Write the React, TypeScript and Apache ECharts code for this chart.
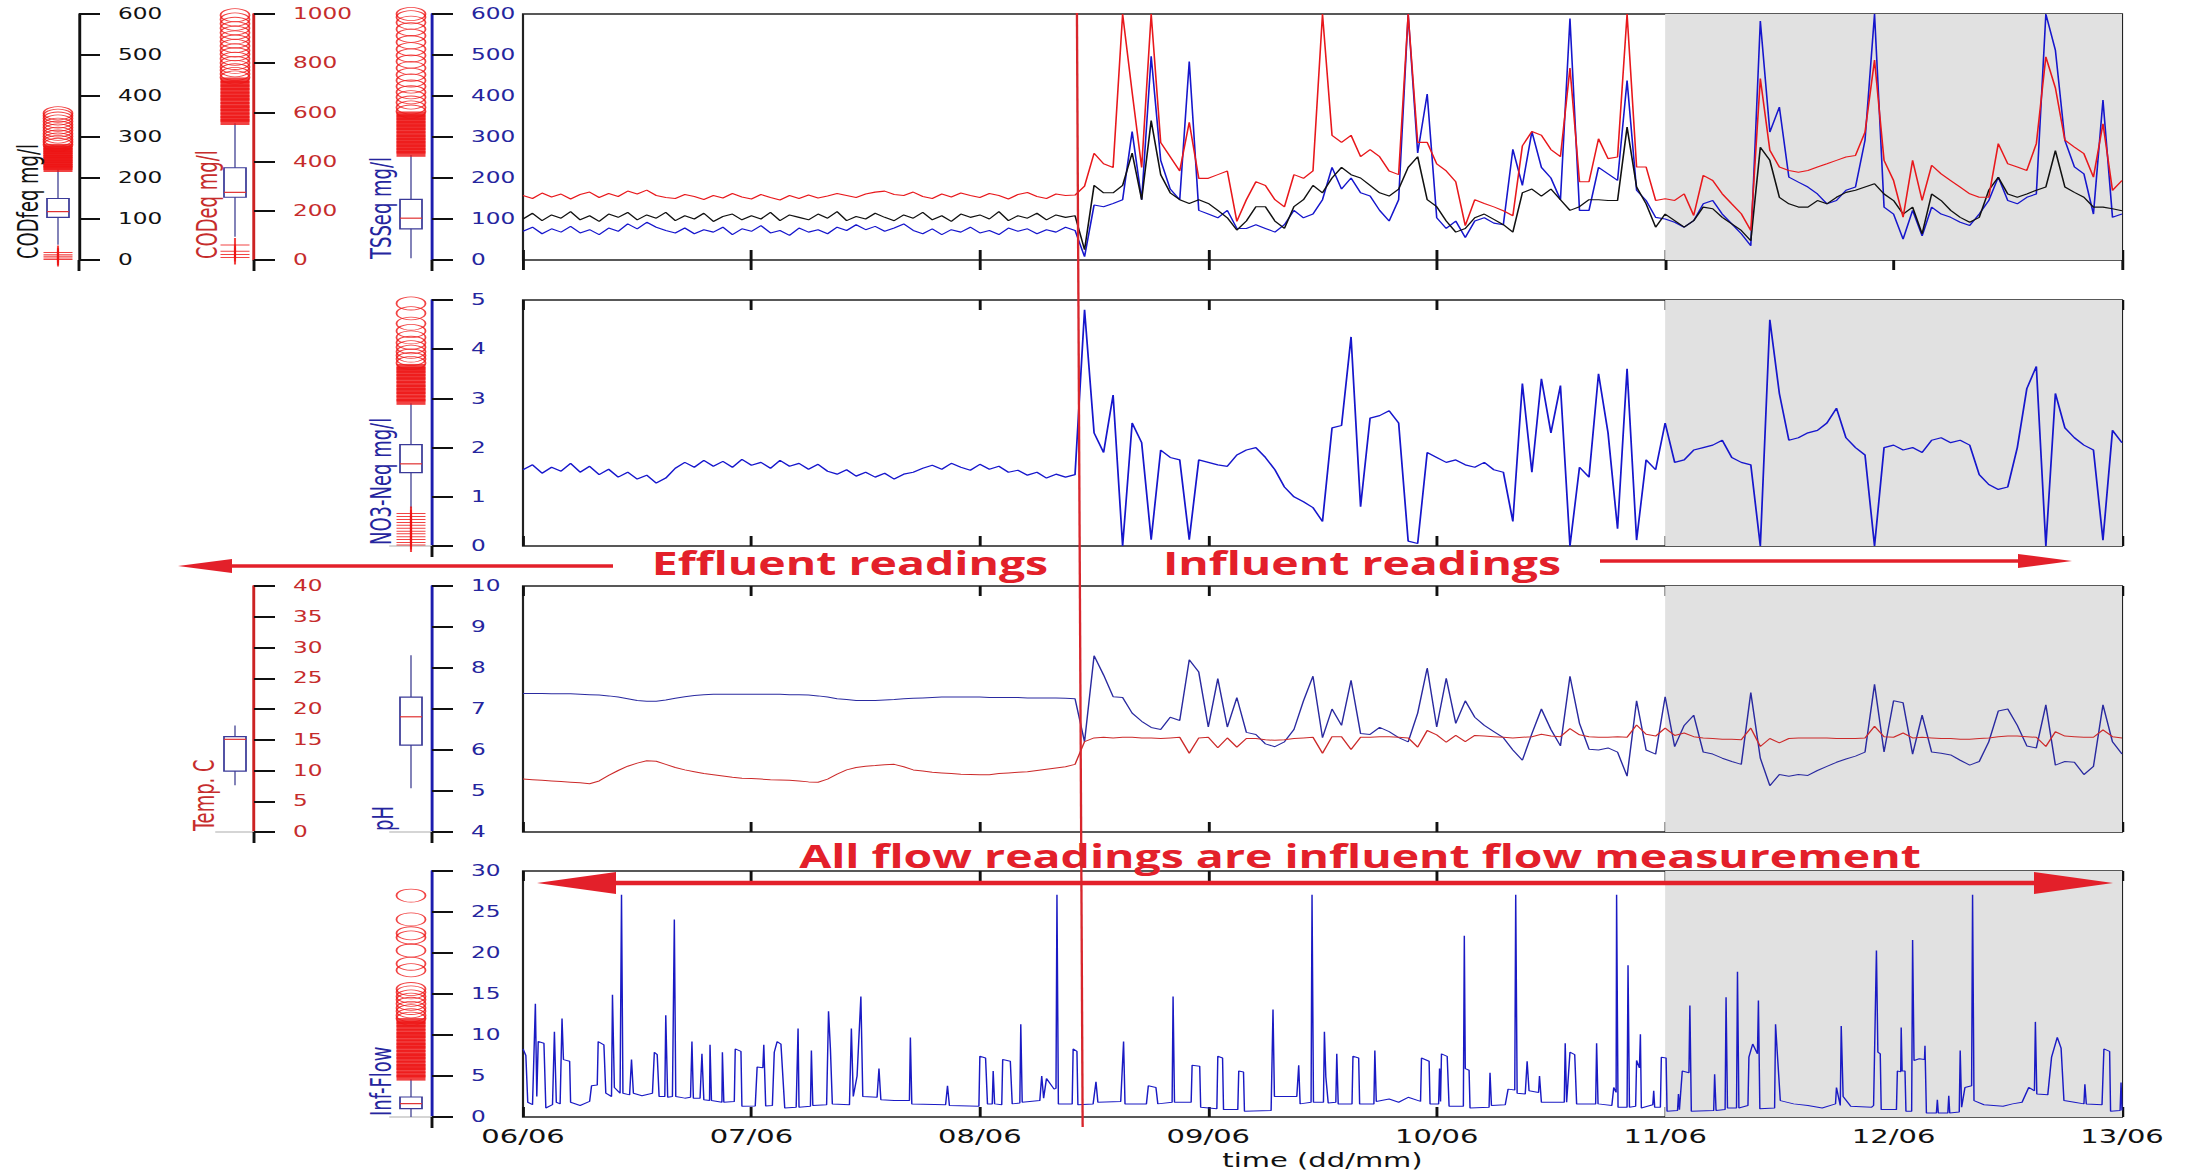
import React, { useEffect, useRef } from 'react';
import * as echarts from 'echarts';

// ---------- page / stretch ----------
const S = 1.45; // the reference figure is stretched horizontally
const W = 2189;
const H = 1173;
const u = (x: number) => x / S;

// ---------- axes / categories ----------
const DAY_LABELS = ['06/06', '07/06', '08/06', '09/06', '10/06', '11/06', '12/06', '13/06'];
const HOURS_MAX = 168;
const SHADE_START = 120;
const SHADE_END = 168;
const SWITCH_TOP = 58.2;
const SWITCH_BOTTOM = 58.8;

// ---------- hourly series (index = hour since 06/06 00:00) ----------
const TSS = [
  70, 80, 64, 76, 68, 82, 66, 74, 62, 78, 70, 88,
  76, 92, 80, 72, 66, 78, 64, 74, 68, 80, 62, 76,
  70, 84, 66, 72, 60, 78, 68, 74, 64, 80, 72, 86,
  74, 82, 70, 78, 88, 72, 64, 76, 62, 74, 68, 80,
  66, 72, 62, 78, 70, 76, 64, 74, 68, 80, 72, 8,
  134, 130, 138, 147, 313, 147, 497, 243, 173, 147, 484, 121,
  112, 103, 121, 77, 77, 86, 77, 68, 86, 121, 103, 112,
  147, 226, 173, 200, 164, 156, 121, 95, 147, 600, 261, 405,
  103, 77, 95, 55, 95, 103, 90, 86, 270, 182, 313, 226,
  200, 147, 589, 121, 121, 226, 210, 194, 438, 170, 145, 104,
  100, 92, 80, 96, 137, 145, 112, 88, 64, 35, 583, 312,
  373, 202, 190, 178, 161, 137, 145, 170, 178, 292, 600, 129,
  112, 51, 121, 59, 129, 112, 104, 92, 84, 112, 145, 202,
  145, 137, 153, 161, 600, 512, 292, 227, 210, 112, 390, 104,
  112,
];

const CODF = [
  100, 114, 96, 110, 102, 118, 98, 108, 94, 112, 104, 116,
  98, 110, 102, 116, 96, 108, 100, 114, 94, 106, 112, 98,
  108, 100, 116, 96, 110, 104, 98, 112, 102, 118, 96, 106,
  100, 114, 104, 96, 110, 102, 116, 98, 108, 94, 112, 104,
  110, 100, 118, 96, 108, 102, 114, 98, 110, 104, 108, 25,
  182, 164, 164, 182, 261, 147, 340, 208, 164, 147, 138, 147,
  138, 121, 103, 73, 95, 130, 130, 95, 77, 130, 147, 182,
  164, 200, 226, 208, 200, 182, 164, 156, 173, 226, 252, 147,
  130, 95, 68, 77, 103, 112, 99, 86, 68, 164, 173, 156,
  173, 147, 121, 130, 147, 147, 145, 145, 324, 178, 137, 80,
  112, 96, 80, 96, 129, 125, 104, 88, 72, 47, 275, 243,
  153, 137, 129, 129, 145, 137, 153, 165, 170, 178, 186, 161,
  145, 112, 129, 64, 161, 145, 121, 104, 92, 104, 170, 202,
  161, 153, 161, 170, 178, 267, 178, 165, 153, 129, 129, 125,
  120,
];

const CODEQ = [
  262, 250, 272, 256, 268, 248, 266, 276, 254, 270, 258, 280,
  268, 284, 262, 254, 250, 266, 258, 246, 262, 252, 270, 256,
  248, 266, 254, 244, 262, 250, 264, 252, 260, 270, 262, 254,
  268, 276, 280, 266, 262, 276, 258, 250, 268, 256, 272, 262,
  254, 270, 262, 248, 266, 274, 258, 250, 268, 262, 264, 300,
  434, 391, 376, 1000, 682, 376, 1000, 478, 420, 362, 560, 332,
  332, 347, 362, 157, 245, 318, 303, 245, 216, 347, 332, 362,
  1000, 507, 478, 507, 420, 449, 420, 362, 347, 1000, 478, 478,
  391, 362, 318, 140, 245, 230, 216, 200, 180, 464, 522, 507,
  449, 420, 780, 318, 318, 493, 412, 419, 1000, 378, 378, 242,
  249, 242, 269, 181, 344, 323, 269, 228, 188, 120, 738, 446,
  378, 364, 357, 364, 378, 391, 405, 419, 425, 520, 813, 405,
  323, 174, 405, 242, 385, 350, 323, 296, 269, 255, 255, 473,
  391, 378, 364, 473, 826, 700, 487, 459, 432, 337, 554, 283,
  323,
];

const NO3 = [
  1.55, 1.65, 1.48, 1.6, 1.52, 1.68, 1.5, 1.62, 1.45, 1.56, 1.4, 1.5,
  1.36, 1.44, 1.28, 1.38, 1.58, 1.7, 1.6, 1.74, 1.62, 1.72, 1.6, 1.76,
  1.64, 1.7, 1.58, 1.74, 1.62, 1.68, 1.56, 1.66, 1.52, 1.46, 1.55, 1.42,
  1.5, 1.4, 1.48, 1.36, 1.46, 1.5, 1.58, 1.64, 1.56, 1.68, 1.6, 1.54,
  1.66, 1.56, 1.62, 1.5, 1.54, 1.44, 1.5, 1.38, 1.46, 1.4, 1.45, 4.8,
  2.3, 1.9, 3.07, 0.0, 2.5, 2.1, 0.13, 1.95, 1.8, 1.75, 0.13, 1.75,
  1.7, 1.65, 1.62, 1.85, 1.95, 2.0, 1.8, 1.55, 1.2, 1.0, 0.9, 0.78,
  0.5, 2.4, 2.45, 4.25, 0.8, 2.6, 2.65, 2.75, 2.5, 0.1, 0.05, 1.9,
  1.8, 1.7, 1.75, 1.65, 1.6, 1.7, 1.55, 1.5, 0.5, 3.3, 1.5, 3.4,
  2.3, 3.26, 0.0, 1.6, 1.4, 3.5, 2.3, 0.35, 3.6, 0.12, 1.75, 1.55,
  2.5, 1.7, 1.75, 1.95, 2.0, 2.05, 2.15, 1.8, 1.7, 1.65, 0.0, 4.6,
  3.1, 2.15, 2.2, 2.3, 2.35, 2.5, 2.8, 2.2, 2.0, 1.85, 0.0, 2.0,
  2.05, 1.95, 2.0, 1.9, 2.15, 2.2, 2.1, 2.15, 2.05, 1.45, 1.25, 1.15,
  1.2, 2.0, 3.2, 3.65, 0.0, 3.1, 2.4, 2.2, 2.05, 1.95, 0.12, 2.35,
  2.1,
];

const PH = [
  7.38, 7.38, 7.38, 7.37, 7.37, 7.37, 7.36, 7.35, 7.34, 7.32, 7.29, 7.25,
  7.21, 7.19, 7.19, 7.22, 7.26, 7.3, 7.33, 7.35, 7.36, 7.36, 7.36, 7.36,
  7.36, 7.36, 7.36, 7.36, 7.35, 7.35, 7.34, 7.32, 7.29, 7.25, 7.23, 7.21,
  7.21, 7.21, 7.22, 7.23, 7.25, 7.26, 7.27, 7.28, 7.29, 7.29, 7.29, 7.29,
  7.29, 7.28, 7.28, 7.28, 7.28, 7.27, 7.27, 7.27, 7.27, 7.26, 7.25, 6.2,
  8.3, 7.83, 7.3, 7.28, 6.9, 6.7, 6.55, 6.5, 6.8, 6.72, 8.2, 7.9,
  6.56, 7.74, 6.56, 7.28, 6.43, 6.38, 6.15, 6.08, 6.2, 6.5, 7.2, 7.8,
  6.3, 7.0, 6.6, 7.7, 6.4, 6.38, 6.55, 6.45, 6.3, 6.2, 6.9, 8.0,
  6.56, 7.75, 6.65, 7.2, 6.8, 6.6, 6.45, 6.3, 6.0, 5.75, 6.4, 7.0,
  6.5, 6.1, 7.8, 6.65, 6.02, 6.0, 6.05, 5.95, 5.36, 7.2, 6.0, 5.9,
  7.3, 6.08, 6.6, 6.85, 5.95, 5.9, 5.8, 5.72, 5.65, 7.4, 5.8, 5.13,
  5.4, 5.36, 5.4, 5.38, 5.5, 5.6, 5.7, 5.78, 5.85, 5.95, 7.6, 5.95,
  7.2, 7.15, 5.9, 6.85, 5.95, 5.92, 5.88, 5.75, 5.63, 5.72, 6.2, 6.95,
  7.0, 6.6, 6.1, 6.05, 7.1, 5.63, 5.72, 5.7, 5.4, 5.6, 7.1, 6.2,
  5.9,
];

const TEMP = [
  8.6, 8.5, 8.4, 8.3, 8.2, 8.1, 8.0, 7.85, 8.3, 9.2, 10.0, 10.7,
  11.2, 11.6, 11.5, 11.0, 10.5, 10.1, 9.8, 9.5, 9.3, 9.1, 8.9, 8.75,
  8.7, 8.6, 8.5, 8.45, 8.4, 8.3, 8.15, 8.1, 8.6, 9.4, 10.1, 10.5,
  10.7, 10.8, 10.95, 11.0, 10.6, 10.1, 9.9, 9.7, 9.6, 9.5, 9.4, 9.35,
  9.3, 9.3, 9.5, 9.6, 9.7, 9.8, 10.0, 10.2, 10.4, 10.6, 11.0, 14.7,
  15.3, 15.4, 15.3, 15.4, 15.4, 15.3, 15.3, 15.2, 15.3, 15.4, 12.8, 15.3,
  15.4, 13.7, 15.3, 13.8, 15.2, 15.2, 15.0, 14.9, 15.0, 15.2, 15.3, 15.4,
  12.8, 15.5, 15.5, 13.4, 15.4, 15.4, 15.5, 15.5, 15.4, 15.3, 13.8, 16.5,
  15.8, 14.6, 15.7, 14.7, 15.7, 15.6, 15.5, 15.4, 15.3, 15.4, 15.5, 15.9,
  15.6, 15.5, 16.8, 15.8, 15.5, 15.4, 15.4, 15.5, 15.4, 17.4, 15.9, 15.6,
  16.9, 15.7, 16.1, 15.5, 15.3, 15.2, 15.1, 15.1, 15.0, 16.9, 13.9, 15.2,
  14.5, 15.2, 15.3, 15.3, 15.3, 15.3, 15.2, 15.2, 15.2, 15.3, 17.2, 15.5,
  15.4, 16.1, 15.3, 15.4, 15.3, 15.2, 15.2, 15.1, 15.1, 15.2, 15.3, 15.5,
  15.6, 15.6, 15.5, 15.4, 13.9, 16.3, 15.6, 15.5, 15.4, 15.4, 16.6, 15.5,
  15.3,
];

// influent flow, [hour, value] read at irregular times to keep narrow spikes
const FLOW = [
  [0, 8.3], [0.3, 7.5], [0.5, 1.8], [1.0, 1.5], [1.3, 13.8], [1.45, 2.5], [1.6, 9.2], [2.2, 9.0], [2.4, 1.1],
  [3.1, 1.5], [3.3, 10.4], [3.5, 1.8], [3.9, 1.6], [4.1, 12.0], [4.25, 7.0], [4.9, 6.8], [5.0, 1.8], [6.0, 1.4],
  [7.0, 1.9], [7.2, 3.8], [7.8, 3.9], [7.9, 9.2], [8.5, 8.8], [8.7, 2.9], [9.3, 2.5], [9.4, 14.9], [9.6, 3.6],
  [10.2, 2.9], [10.35, 27.1], [10.5, 2.9], [11.2, 2.7], [11.4, 7.0], [11.6, 2.9], [12.5, 2.6], [13.6, 2.9],
  [13.8, 7.9], [14.1, 7.6], [14.3, 2.5], [14.9, 2.5], [15.0, 12.4], [15.2, 2.4], [15.7, 2.5], [15.9, 24.1],
  [16.05, 2.5], [17.0, 2.3], [17.6, 2.4], [17.75, 9.2], [17.9, 2.3], [18.6, 2.3], [18.8, 7.7], [19.0, 2.1],
  [19.6, 2.0], [19.65, 8.8], [19.8, 2.0], [20.9, 1.8], [20.95, 7.9], [21.1, 1.8], [22.2, 1.9], [22.3, 8.3],
  [22.9, 8.0], [23.0, 1.3], [24.4, 1.35], [24.6, 6.1], [25.2, 6.0], [25.3, 8.8], [25.5, 1.35], [26.2, 1.4],
  [26.4, 7.9], [26.7, 9.2], [27.1, 8.9], [27.5, 1.1], [28.7, 1.2], [28.9, 10.8], [29.0, 1.2], [30.2, 1.3],
  [30.3, 8.1], [30.45, 1.4], [31.9, 1.5], [32.1, 12.9], [32.3, 8.3], [32.5, 1.6], [34.3, 1.5], [34.5, 10.8],
  [34.7, 2.5], [35.1, 5.0], [35.5, 14.7], [35.7, 2.5], [37.2, 2.4], [37.4, 5.9], [37.6, 2.1], [39.0, 2.0],
  [40.6, 2.0], [40.7, 9.7], [40.85, 1.6], [44.4, 1.5], [44.6, 3.8], [44.8, 1.4], [47.9, 1.3], [48.0, 7.4],
  [48.6, 7.2], [48.8, 1.6], [49.3, 1.6], [49.4, 5.6], [49.55, 1.6], [50.3, 1.5], [50.4, 7.0], [51.2, 6.8],
  [51.4, 1.6], [52.2, 1.7], [52.3, 11.3], [52.45, 1.8], [54.3, 2.0], [54.5, 5.0], [54.7, 2.3], [55.0, 4.7],
  [55.8, 3.4], [56.0, 3.5], [56.1, 27.1], [56.25, 1.6], [57.7, 1.6], [57.8, 8.3], [58.2, 8.0], [58.3, 1.5],
  [59.9, 1.6], [60.2, 4.3], [60.4, 1.8], [62.8, 1.9], [63.1, 9.2], [63.25, 1.6], [65.5, 1.6], [65.7, 3.8],
  [66.5, 3.6], [66.7, 1.6], [68.2, 1.8], [68.3, 14.7], [68.45, 1.8], [70.2, 1.8], [70.3, 6.3], [71.1, 6.2],
  [71.2, 1.2], [72.9, 1.0], [73.0, 7.4], [73.5, 7.2], [73.6, 0.9], [75.1, 0.9], [75.2, 5.6], [75.7, 5.5],
  [75.8, 0.7], [78.6, 0.8], [78.8, 13.1], [78.95, 2.5], [81.3, 2.5], [81.5, 6.3], [81.65, 1.6], [82.8, 1.8],
  [82.9, 27.1], [83.05, 1.8], [84.1, 1.8], [84.2, 10.4], [84.35, 4.9], [84.6, 1.7], [85.4, 1.8], [85.5, 7.7],
  [85.65, 1.6], [87.1, 1.6], [87.2, 7.4], [87.8, 7.2], [87.9, 1.6], [89.4, 1.6], [89.5, 8.1], [89.65, 1.9],
  [91.0, 2.2], [92.0, 1.8], [93.0, 2.4], [94.3, 1.9], [94.4, 7.2], [95.2, 6.8], [95.3, 1.6], [96.2, 1.6],
  [96.3, 5.9], [96.4, 1.9], [96.5, 7.7], [97.1, 7.4], [97.3, 1.3], [98.8, 1.3], [98.9, 22.1], [99.0, 5.9],
  [99.4, 5.7], [99.5, 1.1], [101.5, 1.2], [101.6, 5.4], [101.75, 1.4], [103.2, 1.5], [103.5, 3.4], [104.2, 3.3],
  [104.3, 27.1], [104.45, 2.9], [105.3, 2.8], [105.5, 6.8], [105.7, 3.2], [106.7, 3.0], [106.8, 5.0], [107.0, 1.8],
  [109.4, 1.8], [109.5, 9.0], [109.65, 1.8], [110.0, 7.9], [110.5, 7.6], [110.7, 1.6], [112.7, 1.6], [112.8, 9.0],
  [112.95, 1.6], [114.4, 1.4], [114.6, 3.6], [114.85, 3.0], [114.9, 27.1], [115.05, 1.2], [116.0, 1.2],
  [116.1, 18.5], [116.25, 1.2], [116.9, 1.3], [117.0, 6.9], [117.3, 6.0], [117.4, 10.1], [117.5, 1.1],
  [118.7, 1.5], [118.8, 3.2], [118.9, 1.2], [119.5, 1.2], [119.6, 7.3], [120.1, 7.2], [120.2, 0.7], [121.3, 0.8],
  [121.4, 2.8], [121.5, 0.9], [121.8, 5.6], [122.5, 5.4], [122.6, 13.6], [122.75, 0.7], [125.1, 0.8], [125.2, 5.2],
  [125.35, 0.8], [126.3, 0.9], [126.4, 14.6], [126.55, 1.1], [127.5, 1.1], [127.6, 17.7], [127.75, 1.1],
  [128.7, 1.4], [128.8, 7.3], [129.2, 8.9], [129.7, 7.7], [129.8, 14.2], [129.95, 1.0], [131.5, 1.1],
  [131.6, 11.3], [131.8, 7.5], [132.1, 2.0], [133.5, 1.6], [135.0, 1.4], [136.5, 1.1], [137.9, 1.6], [138.0, 3.6],
  [138.4, 1.4], [138.5, 11.1], [138.7, 2.5], [139.5, 1.3], [141.7, 1.2], [141.9, 1.4], [142.2, 20.3],
  [142.35, 7.9], [142.6, 7.7], [142.7, 0.9], [144.3, 0.9], [144.4, 5.6], [144.75, 5.5], [144.8, 10.9],
  [144.9, 5.6], [145.2, 5.6], [145.3, 0.7], [145.9, 0.7], [146.0, 21.6], [146.15, 6.9], [146.7, 7.1],
  [147.25, 7.0], [147.3, 8.7], [147.45, 0.5], [148.5, 0.5], [148.6, 2.1], [148.7, 0.5], [149.7, 0.5],
  [149.8, 2.6], [149.9, 0.5], [150.9, 0.6], [151.0, 8.1], [151.15, 1.2], [151.5, 3.6], [152.2, 3.8],
  [152.3, 27.1], [152.45, 2.0], [153.5, 1.5], [154.5, 1.4], [155.5, 1.3], [156.5, 1.6], [157.5, 1.8],
  [158.2, 3.6], [158.8, 3.2], [158.9, 11.6], [159.05, 2.8], [160.2, 2.7], [160.6, 7.3], [161.2, 9.7],
  [161.6, 8.4], [161.9, 2.0], [163.0, 1.8], [164.0, 1.6], [164.1, 4.0], [164.25, 1.6], [165.9, 1.5],
  [166.1, 8.3], [166.7, 8.0], [166.8, 0.7], [167.8, 0.8], [167.9, 4.2], [168.0, 0.8],
];

// ---------- box plots: [min whisker, Q1, median, Q3, max whisker] + outliers ----------
const CODFEQ_BOX = [37, 104, 118, 150, 220];
const CODFEQ_DENSE = [222, 227, 233, 238, 244, 249, 255, 260, 266, 271, 276];
const CODFEQ_CIRCLES = [281, 288, 294, 301, 308, 316, 323, 330, 338, 345, 352, 358];
const CODFEQ_LOW = [1, 5, 9, 13, 18];

const CODEQ_BOX = [95, 255, 275, 375, 556];
const CODEQ_DENSE = [561, 574, 588, 603, 617, 630, 646, 660, 673, 688, 702, 716, 730];
const CODEQ_CIRCLES = [742, 756, 771, 785, 801, 818, 836, 852, 870, 888, 905, 924, 942, 960, 978, 995];
const CODEQ_LOW = [10, 22, 36, 61];

const TSS_BOX = [4, 76, 102, 148, 256];
const TSS_DENSE = [259, 267, 275, 283, 291, 299, 307, 316, 324, 332, 340, 348, 355];
const TSS_CIRCLES = [362, 372, 384, 397, 409, 423, 438, 452, 468, 484, 499, 514, 531, 547, 563, 579, 592, 600];
const TSS_LOW: number[] = [];

const NO3_BOX = [0.76, 1.49, 1.67, 2.06, 2.9];
const NO3_DENSE = [2.93, 3.0, 3.08, 3.15, 3.22, 3.29, 3.37, 3.44, 3.51, 3.58, 3.64];
const NO3_CIRCLES = [3.72, 3.8, 3.87, 3.95, 4.04, 4.13, 4.24, 4.37, 4.52, 4.73, 4.93];
const NO3_LOW = [0.02, 0.07, 0.13, 0.19, 0.25, 0.3, 0.36, 0.42, 0.48, 0.54, 0.6, 0.66];

const TEMP_BOX = [7.6, 9.9, 15.07, 15.5, 17.3];
const PH_BOX = [5.07, 6.12, 6.81, 7.29, 8.31];

const FLOW_BOX = [0, 1.02, 1.63, 2.44, 4.6];
const FLOW_DENSE = [4.8, 5.2, 5.7, 6.1, 6.5, 7.0, 7.4, 7.8, 8.3, 8.7, 9.1, 9.6, 10.0, 10.4, 10.9, 11.3, 11.7];
const FLOW_CIRCLES = [12.0, 12.4, 12.9, 13.3, 13.8, 14.3, 14.7, 15.2, 15.6, 17.9, 18.7, 20.3, 21.9, 22.4, 24.1, 27.0];
const EMPTY: number[] = [];

// ---------- layout (reference pixels) & styles ----------
const PANEL_TOPS = [14, 300, 586, 871];
const PANEL_H = 246;
const PLOT_L = 523;
const PLOT_R = 2122;

const FONT = '"DejaVu Sans", "Liberation Sans", sans-serif';
const NARROW = '"Liberation Sans Narrow", "DejaVu Sans Condensed", "Liberation Sans", sans-serif';
const ANNOT = '"Open Sans", "Liberation Sans", sans-serif';
const BLUE = '#1616cc';
const AX_BLUE = '#1c1cae';
const LB_BLUE = '#25259e';
const RED = '#e8181c';
const AX_RED = '#cc2222';
const LB_RED = '#c62c2c';
const OUT_RED = '#ee1414';
const ANN_RED = '#e3202a';
const BOX_C = '#3a3a98';

const BOXES = [
  { panel: 0, center: 58, axisX: 79, box: CODFEQ_BOX, dense: CODFEQ_DENSE, circles: CODFEQ_CIRCLES, low: CODFEQ_LOW, min: 0, max: 600, interval: 100, axisColor: '#111', labelColor: '#111', title: 'CODfeq mg/l', titleX: 28, base: false },
  { panel: 0, center: 235, axisX: 254, box: CODEQ_BOX, dense: CODEQ_DENSE, circles: CODEQ_CIRCLES, low: CODEQ_LOW, min: 0, max: 1000, interval: 200, axisColor: AX_RED, labelColor: LB_RED, title: 'CODeq mg/l', titleX: 207, base: false },
  { panel: 0, center: 411, axisX: 432, box: TSS_BOX, dense: TSS_DENSE, circles: TSS_CIRCLES, low: TSS_LOW, min: 0, max: 600, interval: 100, axisColor: AX_BLUE, labelColor: LB_BLUE, title: 'TSSeq mg/l', titleX: 381, base: false },
  { panel: 1, center: 411, axisX: 432, box: NO3_BOX, dense: NO3_DENSE, circles: NO3_CIRCLES, low: NO3_LOW, min: 0, max: 5, interval: 1, axisColor: AX_BLUE, labelColor: LB_BLUE, title: 'NO3-Neq mg/l', titleX: 381, base: true },
  { panel: 2, center: 235, axisX: 254, box: TEMP_BOX, dense: EMPTY, circles: EMPTY, low: EMPTY, min: 0, max: 40, interval: 5, axisColor: AX_RED, labelColor: LB_RED, title: 'Temp. C', titleX: 204, base: true },
  { panel: 2, center: 411, axisX: 432, box: PH_BOX, dense: EMPTY, circles: EMPTY, low: EMPTY, min: 4, max: 10, interval: 1, axisColor: AX_BLUE, labelColor: LB_BLUE, title: 'pH', titleX: 383, base: true },
  { panel: 3, center: 411, axisX: 432, box: FLOW_BOX, dense: FLOW_DENSE, circles: FLOW_CIRCLES, low: EMPTY, min: 0, max: 30, interval: 5, axisColor: AX_BLUE, labelColor: LB_BLUE, title: 'Inf-Flow', titleX: 381, base: true },
];

const hourly = (arr: number[]) => arr.map((v, i) => [i, v]);

function boxRender(params: any, api: any) {
  const c = (k: number) => api.coord([0, api.value(k)]);
  const x = c(1)[0];
  const yMin = c(1)[1];
  const yQ1 = c(2)[1];
  const yMed = c(3)[1];
  const yQ3 = c(4)[1];
  const yMax = c(5)[1];
  const hw = u(11);
  const wStyle = { stroke: '#55559e', lineWidth: 1 };
  return {
    type: 'group',
    children: [
      { type: 'line', shape: { x1: x, y1: yMax, x2: x, y2: yQ3 }, style: wStyle },
      { type: 'line', shape: { x1: x, y1: yQ1, x2: x, y2: yMin }, style: wStyle },
      { type: 'rect', shape: { x: x - hw, y: yQ3, width: 2 * hw, height: yQ1 - yQ3 }, style: { fill: 'none', stroke: BOX_C, lineWidth: 1.2 } },
      { type: 'line', shape: { x1: x - hw, y1: yMed, x2: x + hw, y2: yMed }, style: { stroke: '#e03030', lineWidth: 1.2 } },
    ],
  };
}

function buildOption() {
  const grid: any[] = [];
  const xAxis: any[] = [];
  const yAxis: any[] = [];
  const series: any[] = [];

  PANEL_TOPS.forEach((top) =>
    grid.push({ left: u(PLOT_L), width: u(PLOT_R - PLOT_L), top, height: PANEL_H, show: true, borderColor: '#222', borderWidth: 1.5, backgroundColor: 'rgba(0,0,0,0)' })
  );
  BOXES.forEach((b) => {
    const d = b.axisX - b.center;
    grid.push({ left: u(b.center - d), width: u(2 * d), top: PANEL_TOPS[b.panel], height: PANEL_H, show: false });
  });

  for (let i = 0; i < 4; i++) {
    xAxis.push({
      gridIndex: i, type: 'value', min: 0, max: HOURS_MAX, interval: 24, position: 'bottom',
      axisLine: { show: false },
      axisTick: { show: true, inside: true, length: 10, lineStyle: { color: '#111', width: 2 } },
      axisLabel: {
        show: i === 3, margin: 9, color: '#111', fontSize: 20, fontFamily: FONT,
        showMinLabel: true, showMaxLabel: true,
        formatter: (v: number) => DAY_LABELS[Math.round(v / 24)] ?? '',
      },
      splitLine: { show: false },
    });
  }
  for (let i = 0; i < 4; i++) {
    xAxis.push({
      gridIndex: i, type: 'value', min: 0, max: HOURS_MAX, interval: 24, position: 'top',
      axisLine: { show: false },
      axisTick: { show: true, inside: true, length: 10, lineStyle: { color: '#111', width: 2 } },
      axisLabel: { show: false }, splitLine: { show: false },
    });
  }
  BOXES.forEach((b, k) =>
    xAxis.push({
      gridIndex: 4 + k, type: 'category', data: ['box'], position: 'bottom',
      axisLine: { show: b.base, onZero: false, lineStyle: { color: '#c8c8c8', width: 1.5 } },
      axisTick: { show: false }, axisLabel: { show: false }, splitLine: { show: false },
    })
  );

  const hiddenY = (gridIndex: number, min: number, max: number) => ({ gridIndex, type: 'value', min, max, show: false, splitLine: { show: false } });
  yAxis.push(hiddenY(0, 0, 600), hiddenY(0, 0, 1000), hiddenY(1, 0, 5), hiddenY(2, 4, 10), hiddenY(2, 0, 40), hiddenY(3, 0, 30));
  BOXES.forEach((b, k) =>
    yAxis.push({
      gridIndex: 4 + k, type: 'value', min: b.min, max: b.max, interval: b.interval, position: 'right',
      axisLine: { show: true, onZero: false, lineStyle: { color: b.axisColor, width: 2 } },
      axisTick: { show: true, inside: false, length: u(21), lineStyle: { color: '#111', width: 2 } },
      axisLabel: { show: true, margin: u(39), color: b.labelColor, fontSize: 16, fontFamily: FONT, formatter: (v: number) => String(v) },
      splitLine: { show: false },
    })
  );

  const shade = { silent: true, z: 1, itemStyle: { color: '#e1e1e1' }, data: [[{ xAxis: SHADE_START }, { xAxis: SHADE_END }]] };
  const line = (name: string, xi: number, yi: number, data: any[], color: string, width: number, withShade: boolean) => ({
    type: 'line', name, xAxisIndex: xi, yAxisIndex: yi, data, symbol: 'none', showSymbol: false, silent: true, z: 3,
    lineStyle: { color, width }, itemStyle: { color },
    ...(withShade ? { markArea: shade } : {}),
  });

  series.push(line('TSSeq', 0, 0, hourly(TSS), BLUE, 1.1, true));
  series.push(line('CODfeq', 0, 0, hourly(CODF), '#111', 1.1, false));
  series.push(line('CODeq', 0, 1, hourly(CODEQ), RED, 1.1, false));
  series.push(line('NO3-Neq', 1, 2, hourly(NO3), BLUE, 1.2, true));
  series.push(line('pH', 2, 3, hourly(PH), '#2a2aa0', 1.0, true));
  series.push(line('Temp', 2, 4, hourly(TEMP), '#cc2a2a', 1.0, false));
  series.push(line('Inf-Flow', 3, 5, FLOW, '#1a1ac4', 1.0, true));

  BOXES.forEach((b, k) => {
    const xi = 8 + k;
    const yi = 6 + k;
    series.push({ type: 'custom', xAxisIndex: xi, yAxisIndex: yi, data: [[0, ...b.box]], encode: { x: 0, y: [1, 2, 3, 4, 5] }, renderItem: boxRender, silent: true, z: 3 });
    if (b.dense.length)
      series.push({ type: 'scatter', xAxisIndex: xi, yAxisIndex: yi, data: b.dense.map((v) => [0, v]), symbol: 'rect', symbolSize: [u(29), 6], itemStyle: { color: OUT_RED }, silent: true, z: 4 });
    if (b.circles.length)
      series.push({ type: 'scatter', xAxisIndex: xi, yAxisIndex: yi, data: b.circles.map((v) => [0, v]), symbol: 'circle', symbolSize: [u(29), 13], itemStyle: { color: 'rgba(0,0,0,0)', borderColor: OUT_RED, borderWidth: 1 }, silent: true, z: 4 });
    if (b.low.length)
      series.push({ type: 'scatter', xAxisIndex: xi, yAxisIndex: yi, data: b.low.map((v) => [0, v]), symbol: 'path://M0 5 L10 5 M5 0 L5 10', symbolSize: [u(29), 14], itemStyle: { color: 'rgba(0,0,0,0)', borderColor: OUT_RED, borderWidth: 1.2 }, silent: true, z: 4 });
  });

  return { animation: false, backgroundColor: '#ffffff', grid, xAxis, yAxis, series };
}

function staticGraphics() {
  const g: any[] = [];
  BOXES.forEach((b, k) => {
    const bottom = PANEL_TOPS[b.panel] + PANEL_H;
    g.push({
      id: 'title' + k, type: 'text', x: u(b.titleX), y: bottom - 1, rotation: Math.PI / 2, z: 10,
      style: { text: b.title, fill: b.labelColor, fontSize: 20, fontFamily: NARROW, align: 'left', verticalAlign: 'middle' },
    });
    g.push({ id: 'ext' + k, type: 'line', z: 10, shape: { x1: u(b.axisX), y1: bottom, x2: u(b.axisX), y2: bottom + 11 }, style: { stroke: '#111', lineWidth: 2 } });
  });
  const txt = (id: string, text: string, cx: number, cy: number) => ({
    id, type: 'text', x: u(cx), y: cy, z: 10,
    style: { text, fill: ANN_RED, fontSize: 32, fontWeight: 'bold', fontFamily: ANNOT, align: 'center', verticalAlign: 'middle' },
  });
  g.push(txt('eff', 'Effluent readings', 850, 563));
  g.push(txt('inf', 'Influent readings', 1362, 563));
  g.push(txt('flowtxt', 'All flow readings are influent flow measurement', 1360, 856));

  const arrowLine = (id: string, x1: number, x2: number, y: number, w: number) => ({ id, type: 'line', z: 10, shape: { x1: u(x1), y1: y, x2: u(x2), y2: y }, style: { stroke: ANN_RED, lineWidth: w } });
  const head = (id: string, tip: number, base: number, y: number, hh: number) => ({ id, type: 'polygon', z: 10, shape: { points: [[u(tip), y], [u(base), y - hh], [u(base), y + hh]] }, style: { fill: ANN_RED } });
  g.push(arrowLine('la', 226, 613, 566, 3.5), head('lah', 178, 232, 566, 7));
  g.push(arrowLine('ra', 1600, 2024, 561, 3.5), head('rah', 2072, 2018, 561, 7));
  g.push(arrowLine('da', 610, 2040, 883, 4.5), head('dah1', 537, 616, 883, 11), head('dah2', 2113, 2034, 883, 11));

  g.push({
    id: 'xname', type: 'text', x: u((PLOT_L + PLOT_R) / 2), y: 1160, z: 10,
    style: { text: 'time (dd/mm)', fill: '#111', fontSize: 20, fontFamily: FONT, align: 'center', verticalAlign: 'middle' },
  });
  return g;
}

export default function App() {
  const ref = useRef<HTMLDivElement>(null);
  useEffect(() => {
    document.body.style.margin = '0';
    document.body.style.overflow = 'hidden';
    const chart = echarts.init(ref.current as HTMLDivElement, null, { renderer: 'svg' });
    chart.setOption(buildOption());
    const g = staticGraphics();
    const pTop = chart.convertToPixel({ gridIndex: 0 } as any, [SWITCH_TOP, 600]) as number[];
    const pBot = chart.convertToPixel({ gridIndex: 3 } as any, [SWITCH_BOTTOM, 0]) as number[];
    if (pTop && pBot) {
      g.push({ id: 'switch', type: 'line', z: 50, shape: { x1: pTop[0], y1: pTop[1] - 1, x2: pBot[0], y2: pBot[1] + 10 }, style: { stroke: '#d8262c', lineWidth: 1.6 } });
    }
    chart.setOption({ graphic: g });
    return () => chart.dispose();
  }, []);
  return (
    <div
      ref={ref}
      style={{ position: 'absolute', left: 0, top: 0, width: W / S, height: H, transform: `scaleX(${S})`, transformOrigin: '0 0' }}
    />
  );
}
